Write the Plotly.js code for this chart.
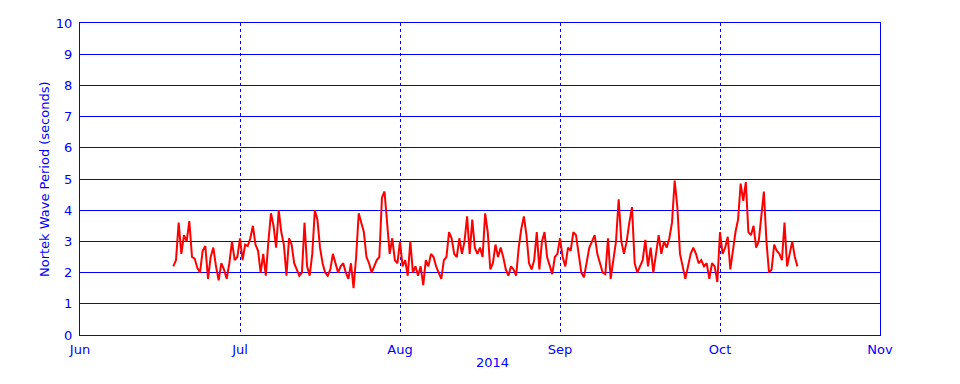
<!DOCTYPE html>
<html>
<head>
<meta charset="utf-8">
<script src="https://cdn.plot.ly/plotly-3.0.1.min.js"></script>
<style>html,body{margin:0;padding:0;background:#fff;}#chart{width:960px;height:384px;}</style>
</head>
<body>
<div id="chart"></div>
<script>
// Nortek wave period, sampled every 12 hours from 2014-06-18 12:00 UTC
const startTime = "2014-06-18T12:00:00Z";
const stepHours = 12;

const juneValues = [2.2,2.4,3.6,2.6,3.2,3.0,3.65,2.5,2.45,2.15,2.0,2.7,2.85,1.8,2.5,2.8,2.2,1.75,2.3,2.1,1.8,2.3,3.0,2.4,2.5];
const julyValues = [3.1,2.4,2.9,2.85,3.1,3.5,2.9,2.7,2.0,2.6,1.9,3.0,3.9,3.5,2.8,4.0,3.3,2.9,1.9,3.1,2.9,2.3,2.1,1.9,2.0,3.6,2.2,1.9,2.6,4.0,3.7,2.8,2.3,2.0,1.9,2.1,2.6,2.3,2.0,2.2,2.3,2.0,1.8,2.3,1.5,2.5,3.9,3.6,3.3,2.5,2.3,2.0,2.2,2.4,2.5,4.4,4.6,3.7,2.6,3.1,2.4,2.3];
const augustValues = [3.0,2.2,2.4,1.9,3.0,2.0,2.2,1.9,2.2,1.6,2.4,2.2,2.6,2.5,2.2,2.0,1.8,2.4,2.5,3.3,3.1,2.6,2.5,3.1,2.6,3.0,3.8,2.6,3.7,2.8,2.6,2.8,2.5,3.9,3.3,2.1,2.3,2.9,2.5,2.8,2.5,2.1,1.9,2.2,2.1,1.9,2.8,3.4,3.8,3.2,2.3,2.1,2.4,3.3,2.1,3.0,3.3,2.5,2.2,1.95,2.5,2.6];
const septemberValues = [3.1,2.5,2.2,2.8,2.7,3.3,3.2,2.5,2.0,1.85,2.3,2.8,3.0,3.2,2.6,2.3,2.0,1.95,3.1,1.8,2.4,3.0,4.35,3.0,2.6,3.0,3.6,4.1,2.3,2.0,2.2,2.4,3.05,2.2,2.8,2.0,2.6,3.2,2.6,3.0,2.8,3.1,3.6,4.95,4.1,2.6,2.2,1.8,2.2,2.6,2.8,2.6,2.3,2.4,2.2,2.3,1.8,2.3,2.2,1.7];
const octoberValues = [3.3,2.6,2.8,3.15,2.1,2.8,3.3,3.7,4.85,4.3,4.9,3.3,3.2,3.5,2.8,3.0,3.9,4.6,3.0,2.0,2.1,2.9,2.7,2.6,2.4,3.6,2.2,2.6,3.0,2.5,2.2];

const monthLabels = ["Jun","Jul","Aug","Sep","Oct","Nov"];
const yTicks = [0,1,2,3,4,5,6,7,8,9,10];
const yearLabel = "2014";
const yTitle = "Nortek Wave Period (seconds)";

const values = [].concat(juneValues, julyValues, augustValues, septemberValues, octoberValues);
const t0 = Date.parse(startTime);
const xs = values.map((v, i) => {
  const d = new Date(t0 + i * stepHours * 3600000);
  const y = d.getUTCFullYear(), m = d.getUTCMonth();
  const dim = new Date(Date.UTC(y, m + 1, 0)).getUTCDate();
  const frac = (d.getUTCDate() - 1 + d.getUTCHours() / 24 + d.getUTCMinutes() / 1440) / dim;
  return (m - 5) + frac;
});

const blue = "#0000ff";
const font = {family: "DejaVu Sans, sans-serif", size: 13, color: blue};

Plotly.newPlot("chart", [{
  x: xs, y: values, type: "scatter", mode: "lines",
  line: {color: "#ff0000", width: 2}, hoverinfo: "skip"
}], {
  width: 960, height: 384,
  margin: {l: 80, r: 80, t: 23, b: 49, pad: 0},
  paper_bgcolor: "#ffffff", plot_bgcolor: "#ffffff",
  showlegend: false,
  font: font,
  xaxis: {
    range: [0, 5], tickvals: monthLabels.map((_, i) => i), ticktext: monthLabels,
    showgrid: true, gridcolor: blue, gridwidth: 1, griddash: "dot",
    showline: true, linecolor: blue, linewidth: 1, mirror: true,
    zeroline: false, ticks: "", tickfont: font, ticklabelstandoff: 2,
    fixedrange: true
  },
  yaxis: {
    range: [0, 10], tickvals: yTicks, ticktext: yTicks.map(String),
    showgrid: true, gridcolor: blue, gridwidth: 1,
    showline: true, linecolor: blue, linewidth: 1, mirror: true,
    zeroline: false, ticks: "", tickfont: font, ticklabelstandoff: 4,
    fixedrange: true
  },
  annotations: [
    {text: yearLabel, xref: "paper", yref: "paper", x: 0.516, y: -0.0897,
     xanchor: "center", yanchor: "middle", showarrow: false, font: font},
    {text: yTitle, xref: "paper", yref: "paper", x: -0.045, y: 0.5, textangle: -90,
     xanchor: "center", yanchor: "middle", showarrow: false, font: font}
  ]
}, {displayModeBar: false, staticPlot: true});
</script>
</body>
</html>
